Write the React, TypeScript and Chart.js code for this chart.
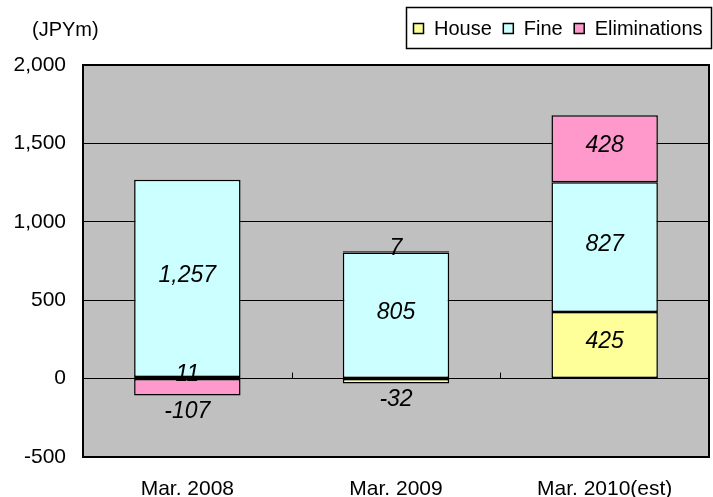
import React, { useEffect, useRef } from "react";
import { Chart, registerables } from "chart.js";

Chart.register(...registerables);

const categories = ["Mar. 2008", "Mar. 2009", "Mar. 2010(est)"];
const houseValues = [11, -32, 425];
const fineValues = [1257, 805, 827];
const eliminationValues = [-107, 7, 428];
const seriesNames = ["House", "Fine", "Eliminations"];
const seriesColors = ["#FFFF99", "#CCFFFF", "#FF99CC"];
const yTicks = [-500, 0, 500, 1000, 1500, 2000];
const unitLabel = "(JPYm)";

const FONT = "'Liberation Sans', Arial, sans-serif";

const fmt = (v: number) => v.toLocaleString("en-US");

const framePlugin = {
  id: "frame",
  beforeDraw(chart: any) {
    const { ctx, chartArea: a } = chart;
    ctx.save();
    ctx.fillStyle = "#C0C0C0";
    ctx.fillRect(a.left, a.top, a.right - a.left, a.bottom - a.top);
    ctx.restore();
  },
  afterDatasetsDraw(chart: any) {
    const { ctx } = chart;
    const xs = chart.scales.x;
    const ys = chart.scales.y;
    const y0 = ys.getPixelForValue(0);
    ctx.save();
    ctx.strokeStyle = "#000";
    ctx.lineWidth = 1;
    for (let i = 0; i < categories.length - 1; i++) {
      const x = Math.round((xs.getPixelForValue(i) + xs.getPixelForValue(i + 1)) / 2) + 0.5;
      ctx.beginPath();
      ctx.moveTo(x, y0);
      ctx.lineTo(x, y0 - 6);
      ctx.stroke();
    }
    ctx.fillStyle = "#000";
    ctx.font = `italic 23px ${FONT}`;
    ctx.textAlign = "center";
    ctx.textBaseline = "middle";
    chart.data.datasets.forEach((ds: any, di: number) => {
      const meta = chart.getDatasetMeta(di);
      meta.data.forEach((el: any, i: number) => {
        const v = ds.data[i];
        const y = v < 0 ? el.y + 16 : (el.y + el.base) / 2 - 3;
        ctx.fillText(fmt(v), el.x, y);
      });
    });
    ctx.restore();
  },
  afterDraw(chart: any) {
    const { ctx, chartArea: a } = chart;
    ctx.save();
    ctx.strokeStyle = "#000";
    ctx.lineWidth = 2;
    ctx.strokeRect(a.left, a.top, a.right - a.left, a.bottom - a.top);
    ctx.fillStyle = "#000";
    ctx.font = `20px ${FONT}`;
    ctx.textAlign = "left";
    ctx.textBaseline = "middle";
    ctx.fillText(unitLabel, 32, 30);
    ctx.lineWidth = 1.5;
    ctx.fillStyle = "#fff";
    ctx.fillRect(406, 7, 306, 42);
    ctx.strokeRect(406.5, 7.5, 305, 41);
    let x = 413;
    const cy = 28;
    chart.data.datasets.forEach((ds: any) => {
      ctx.fillStyle = ds.backgroundColor;
      ctx.fillRect(x, cy - 5, 11, 11);
      ctx.lineWidth = 1.5;
      ctx.strokeStyle = "#000";
      ctx.strokeRect(x + 0.5, cy - 4.5, 10, 10);
      ctx.fillStyle = "#000";
      ctx.fillText(ds.label, x + 21, cy + 1);
      x += 21 + ctx.measureText(ds.label).width + 11;
    });
    ctx.restore();
  },
};

export default function App() {
  const ref = useRef<HTMLCanvasElement | null>(null);
  useEffect(() => {
    if (!ref.current) return;
    const values = [houseValues, fineValues, eliminationValues];
    const chart = new Chart(ref.current, {
      type: "bar",
      data: {
        labels: categories,
        datasets: seriesNames.map((name, i) => ({
          label: name,
          data: values[i],
          backgroundColor: seriesColors[i],
          borderColor: "#000",
          borderWidth: 1.5,
          borderSkipped: false,
          categoryPercentage: 1,
          barPercentage: 0.51,
        })),
      },
      options: {
        responsive: false,
        animation: false,
        layout: { padding: { top: 65, right: 4, left: 0, bottom: 0 } },
        plugins: {
          legend: { display: false },
          tooltip: { enabled: false },
          title: { display: false },
        },
        scales: {
          x: {
            stacked: true,
            grid: { display: false },
            border: { display: false },
            ticks: { color: "#000", font: { family: FONT, size: 21 }, padding: 12 },
            afterFit: (s: any) => {
              s.height = 40;
            },
          },
          y: {
            stacked: true,
            min: yTicks[0],
            max: yTicks[yTicks.length - 1],
            afterBuildTicks: (s: any) => {
              s.ticks = yTicks.map((v) => ({ value: v }));
            },
            grid: { color: "#000", lineWidth: 1, drawTicks: false },
            border: { display: false },
            ticks: {
              color: "#000",
              font: { family: FONT, size: 21 },
              padding: 17,
              callback: (v: any) => fmt(Number(v)),
            },
            afterFit: (s: any) => {
              s.width = 83;
            },
          },
        },
      },
      plugins: [framePlugin],
    });
    return () => chart.destroy();
  }, []);
  return (
    <div style={{ position: "fixed", left: 0, top: 0, width: 713, height: 497, background: "#fff" }}>
      <canvas ref={ref} width={713} height={497} />
    </div>
  );
}
